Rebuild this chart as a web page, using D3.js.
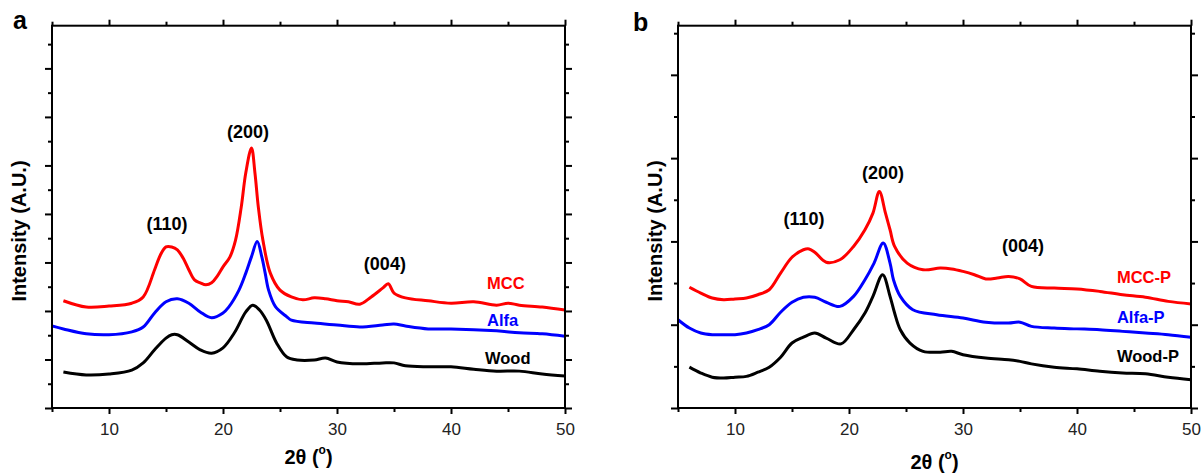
<!DOCTYPE html>
<html>
<head>
<meta charset="utf-8">
<script src="https://cdn.jsdelivr.net/npm/d3@7"></script>
<style>
  body { margin: 0; background: #fff; }
  svg text { font-family: "Liberation Sans", Arial, sans-serif; }
</style>
</head>
<body>
<svg id="chart" width="1202" height="475"></svg>
<script>
// ---- DATA (2θ in degrees, intensity in a.u.) ----

// panel a
const a_mcc_x  = [6, 8, 10, 12, 13, 14, 14.5, 15, 15.5, 16, 16.5, 17, 17.5, 18, 18.5, 19, 19.5, 20, 20.6, 21.1, 21.6, 22, 22.5, 22.8, 23.1, 23.5, 24.15, 25, 26, 27, 28, 29, 30, 31, 32, 33, 34, 34.5, 35, 36, 38, 40, 42, 44, 45, 46, 48, 50];
const a_mcc_y  = [2.21, 2.08, 2.10, 2.16, 2.29, 2.85, 3.15, 3.32, 3.32, 3.26, 3.09, 2.85, 2.64, 2.58, 2.54, 2.58, 2.72, 2.91, 3.11, 3.46, 4.14, 4.85, 5.36, 4.85, 4.14, 3.46, 2.78, 2.43, 2.29, 2.23, 2.27, 2.25, 2.21, 2.19, 2.14, 2.29, 2.47, 2.56, 2.37, 2.27, 2.21, 2.16, 2.19, 2.12, 2.16, 2.12, 2.08, 2.02];

const a_alfa_x = [5, 6, 8, 10, 12, 13, 14, 15, 16, 17, 18, 19, 20, 20.5, 21.4, 22, 22.5, 23, 23.4, 23.7, 24, 24.6, 25.6, 26, 28, 30, 32, 34, 35, 36, 38, 40, 44, 46, 48, 50];
const a_alfa_y = [1.69, 1.63, 1.53, 1.51, 1.57, 1.67, 1.96, 2.19, 2.25, 2.16, 1.98, 1.86, 1.96, 2.08, 2.43, 2.78, 3.12, 3.43, 3.12, 2.78, 2.43, 2.09, 1.88, 1.81, 1.75, 1.71, 1.67, 1.71, 1.73, 1.69, 1.63, 1.63, 1.59, 1.55, 1.53, 1.48];

const a_wood_x = [6, 8, 10, 12, 13, 14, 15, 15.5, 16, 17, 18, 19, 20, 21, 22, 22.6, 23.2, 23.8, 24.7, 25.6, 26.5, 28, 29, 30, 32, 34, 35, 36, 38, 40, 42, 44, 46, 48, 50];
const a_wood_y = [0.74, 0.68, 0.70, 0.78, 0.93, 1.20, 1.44, 1.51, 1.51, 1.36, 1.20, 1.13, 1.24, 1.55, 1.98, 2.12, 2.02, 1.81, 1.34, 1.05, 0.99, 0.99, 1.03, 0.95, 0.91, 0.93, 0.93, 0.87, 0.85, 0.85, 0.80, 0.76, 0.76, 0.70, 0.66];

// panel b
const b_mcc_x  = [6, 7, 8, 9, 10, 11, 12, 13, 14, 15, 16, 16.5, 17, 18, 19.2, 20.4, 21.4, 22.1, 22.66, 23.2, 23.6, 24, 25.1, 26.5, 28, 29, 30, 31, 32, 33, 34, 35, 36, 38, 40, 42, 44, 46, 48, 50];
const b_mcc_y  = [1.45, 1.38, 1.32, 1.30, 1.31, 1.32, 1.36, 1.42, 1.62, 1.81, 1.90, 1.91, 1.87, 1.75, 1.78, 1.94, 2.14, 2.34, 2.60, 2.34, 2.14, 1.94, 1.74, 1.66, 1.68, 1.67, 1.64, 1.60, 1.55, 1.56, 1.58, 1.55, 1.46, 1.44, 1.43, 1.40, 1.36, 1.33, 1.28, 1.25];

const b_alfa_x = [5, 6, 7, 8, 9, 10, 11, 12, 13, 14, 15, 16, 17, 18, 19.2, 20.4, 21.4, 22.2, 23, 23.6, 23.9, 24.5, 25.6, 27.7, 30, 32, 34, 35, 36, 38, 40, 42, 44, 46, 48, 50];
const b_alfa_y = [1.06, 0.96, 0.90, 0.88, 0.88, 0.88, 0.90, 0.94, 1.00, 1.15, 1.27, 1.33, 1.33, 1.27, 1.22, 1.34, 1.54, 1.74, 1.98, 1.74, 1.54, 1.34, 1.18, 1.12, 1.08, 1.03, 1.02, 1.03, 0.98, 0.96, 0.95, 0.94, 0.92, 0.90, 0.88, 0.85];

const b_wood_x = [6, 7, 8, 9, 10, 11, 12, 13, 14, 15, 16, 17, 18, 19.3, 20.4, 21.4, 22.1, 22.95, 23.6, 24, 24.5, 25.35, 26.5, 28, 29, 30, 32, 34, 35, 36, 38, 40, 42, 44, 46, 48, 50];
const b_wood_y = [0.49, 0.42, 0.37, 0.36, 0.37, 0.38, 0.43, 0.49, 0.61, 0.78, 0.85, 0.90, 0.84, 0.77, 0.94, 1.14, 1.34, 1.60, 1.34, 1.14, 0.94, 0.78, 0.68, 0.67, 0.68, 0.64, 0.60, 0.58, 0.56, 0.53, 0.49, 0.47, 0.44, 0.42, 0.41, 0.37, 0.34];

// tick labels
const x_major = [10, 20, 30, 40, 50];
const x_minor = [5, 15, 25, 35, 45];

// peak labels and legend labels
const a_peaks = [["(110)", 15.09, 3.67], ["(200)", 22.19, 5.57], ["(004)", 34.2, 2.85]];
const b_peaks = [["(110)", 16.05, 2.20], ["(200)", 22.98, 2.75], ["(004)", 35.26, 1.87]];
const a_names = [["MCC", 43.16, 2.45, "red"], ["Alfa", 43.16, 1.69, "blue"], ["Wood", 42.98, 0.91, "black"]];
const b_names = [["MCC-P", 43.5, 1.50, "red"], ["Alfa-P", 43.5, 1.02, "blue"], ["Wood-P", 43.5, 0.55, "black"]];

const svg = d3.select("#chart");

let zip = (xs, ys) => xs.map((x, i) => [x, ys[i]]);

// ---- one panel ----
let draw_panel = (opt) => {
    const left = opt.left, right = opt.right, top = 25.7, bottom = 408;

    let sx = d3.scaleLinear().domain([5, 50]).range([left, right]);
    let sy = d3.scaleLinear().domain([0, opt.ymax]).range([bottom, top]);

    let g = svg.append("g");

    // curves
    let clipId = "clip" + opt.letter;
    svg.append("clipPath").attr("id", clipId)
        .append("rect").attr("x", left).attr("y", top)
        .attr("width", right - left).attr("height", bottom - top);

    let line = d3.line()
        .x(d => sx(d[0]))
        .y(d => sy(d[1]))
        .curve(d3.curveCatmullRom.alpha(0.5));

    opt.series.forEach(s => {
        g.append("path")
            .attr("clip-path", `url(#${clipId})`)
            .attr("d", line(zip(s[0], s[1])))
            .attr("fill", "none")
            .attr("stroke", s[2])
            .attr("stroke-width", 3)
            .attr("stroke-linejoin", "round");
    });

    // axes: major + minor on all four sides
    let yMajor = d3.range(0, Math.floor(opt.ymax) + 1);
    let yMinor = d3.range(0.5, opt.ymax, 1);

    let addAxis = (axisFn, scale, values, size, tr, labels) => {
        let ax = axisFn(scale).tickValues(values).tickSize(size).tickSizeOuter(0);
        if (labels) ax.tickPadding(9).tickFormat(d3.format("d"));
        else ax.tickFormat("");
        let a = g.append("g").attr("transform", tr).call(ax);
        a.select(".domain").remove();
        a.selectAll("line").attr("stroke", "#000").attr("stroke-width", 2);
        a.selectAll("text")
            .attr("font-size", 17)
            .attr("fill", "#222")
            .style("font-family", "'Liberation Sans', Arial, sans-serif");
    };

    addAxis(d3.axisBottom, sx, x_major, 6, `translate(0,${bottom})`, true);
    addAxis(d3.axisBottom, sx, x_minor, 4, `translate(0,${bottom})`, false);
    addAxis(d3.axisTop, sx, x_major, 6, `translate(0,${top})`, false);
    addAxis(d3.axisTop, sx, x_minor, 4, `translate(0,${top})`, false);
    addAxis(d3.axisLeft, sy, yMajor, 7, `translate(${left},0)`, false);
    addAxis(d3.axisLeft, sy, yMinor, 4, `translate(${left},0)`, false);
    addAxis(d3.axisRight, sy, yMajor, 7, `translate(${right},0)`, false);
    addAxis(d3.axisRight, sy, yMinor, 4, `translate(${right},0)`, false);

    // frame
    g.append("rect")
        .attr("x", left).attr("y", top)
        .attr("width", right - left).attr("height", bottom - top)
        .attr("fill", "none").attr("stroke", "#000").attr("stroke-width", 2);

    // peak labels
    opt.peaks.forEach(p => {
        g.append("text")
            .attr("x", sx(p[1])).attr("y", sy(p[2]))
            .attr("text-anchor", "middle")
            .attr("font-size", 18).attr("font-weight", "bold")
            .text(p[0]);
    });

    // series names
    opt.names.forEach(n => {
        g.append("text")
            .attr("x", sx(n[1])).attr("y", sy(n[2]))
            .attr("font-size", 16.5).attr("font-weight", "bold")
            .attr("fill", n[3])
            .text(n[0]);
    });

    // axis titles
    let xt = g.append("text")
        .attr("x", (left + right) / 2).attr("y", opt.xtY)
        .attr("text-anchor", "middle")
        .attr("font-size", 20).attr("font-weight", "bold");
    xt.append("tspan").text("2θ (");
    xt.append("tspan").text("o").attr("font-size", 12).attr("baseline-shift", "85%");
    xt.append("tspan").text(")");

    g.append("text")
        .attr("transform", `translate(${opt.ytX},231) rotate(-90)`)
        .attr("text-anchor", "middle")
        .attr("font-size", 20).attr("font-weight", "bold")
        .text("Intensity (A.U.)");

    // panel letter
    g.append("text")
        .attr("x", opt.letterX).attr("y", opt.letterY)
        .attr("font-size", 25).attr("font-weight", "bold")
        .text(opt.letter);
};

draw_panel({
    letter: "a", letterX: 13, letterY: 29,
    left: 52, right: 565, ymax: 7.88,
    xtY: 464, ytX: 26,
    series: [[a_mcc_x, a_mcc_y, "#ff0000"], [a_alfa_x, a_alfa_y, "#0000ff"], [a_wood_x, a_wood_y, "#000000"]],
    peaks: a_peaks, names: a_names
});

draw_panel({
    letter: "b", letterX: 633, letterY: 31,
    left: 678, right: 1191, ymax: 4.59,
    xtY: 469, ytX: 662,
    series: [[b_mcc_x, b_mcc_y, "#ff0000"], [b_alfa_x, b_alfa_y, "#0000ff"], [b_wood_x, b_wood_y, "#000000"]],
    peaks: b_peaks, names: b_names
});
</script>
</body>
</html>
